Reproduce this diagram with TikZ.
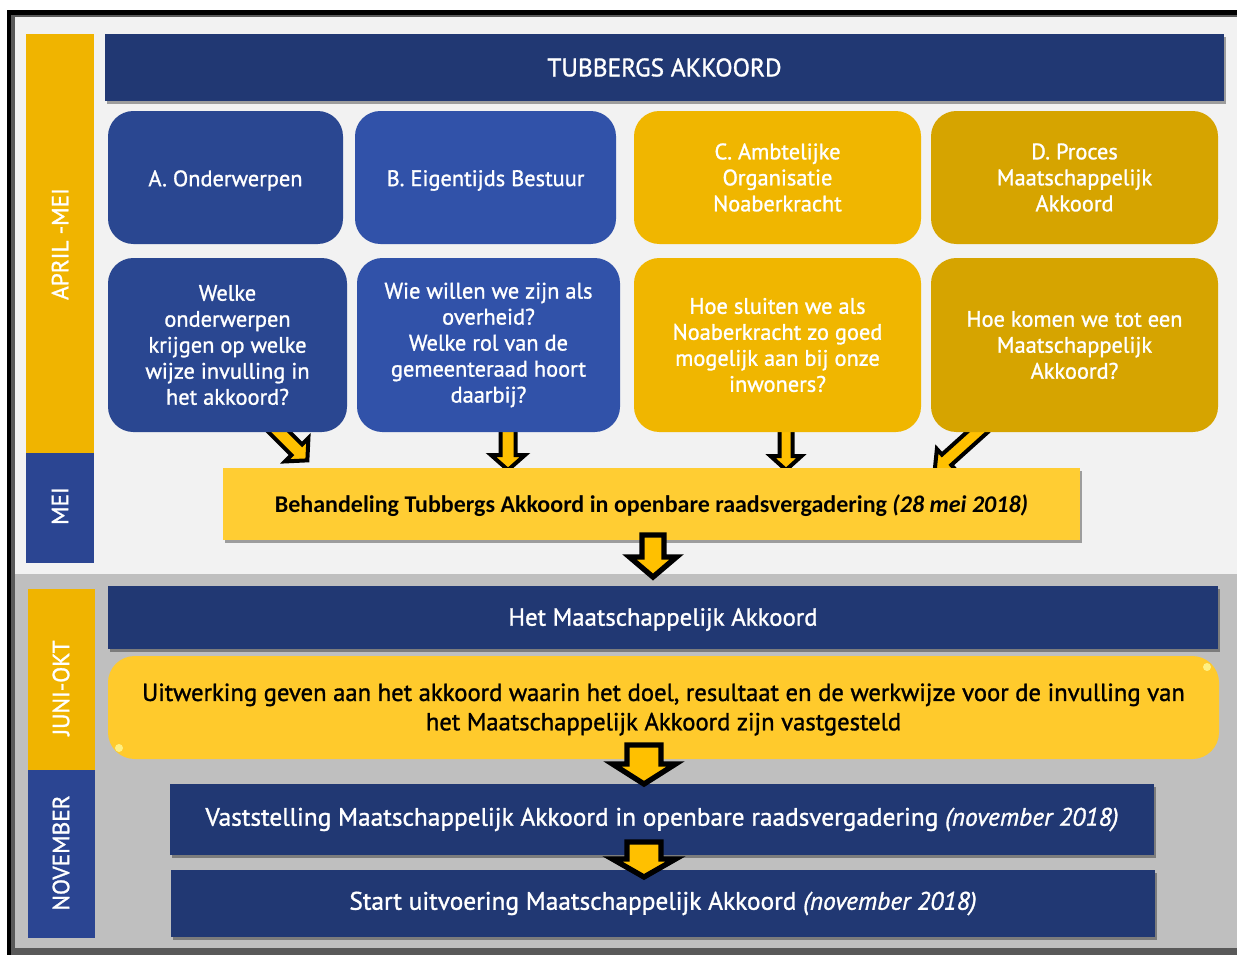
\documentclass[tikz,border=0pt]{standalone}
\usepackage{fontspec}
\setmainfont{PT Sans}[RawFeature={embolden=1.2}]
\newfontfamily\calfont{Carlito}
\usetikzlibrary{fit,shadows,calc}
\definecolor{navy}{HTML}{213873}
\definecolor{sideblue}{HTML}{2B4592}
\definecolor{sideyel}{HTML}{F0B400}
\definecolor{boxA}{HTML}{2A4791}
\definecolor{boxB}{HTML}{3152A9}
\definecolor{boxC}{HTML}{F0B600}
\definecolor{boxD}{HTML}{D6A400}
\definecolor{behyel}{HTML}{FFCD33}
\definecolor{uityel}{HTML}{FFCA2C}
\definecolor{arrfill}{HTML}{FFC000}
\definecolor{topbg}{HTML}{F2F2F2}
\definecolor{botbg}{HTML}{BFBFBF}
\definecolor{framegray}{HTML}{595959}
\newcommand\blockarrow[7]{%
  \begin{scope}[shift={#1},rotate=#2]
    \filldraw[arrowstyle,line width=#7] (-#4,0) -- (-#4,#3-#6) -- (-#5,#3-#6) -- (0,#3) -- (#5,#3-#6) -- (#4,#3-#6) -- (#4,0) -- cycle;
  \end{scope}}
\begin{document}
\begin{tikzpicture}[x=0.75pt,y=-0.75pt,
  boxfont/.style={font=\fontsize{16.8}{19.5}\selectfont},
  rbox/.style={rounded corners=19pt,inner sep=0pt},
  txt/.style={boxfont,align=center,text=white,inner sep=0pt},
  sq/.style={inner sep=0pt,fill=navy,
     drop shadow={shadow xshift=1.5pt,shadow yshift=-2.5pt,opacity=0.35,fill=black}},
  side/.style={inner sep=0pt},
  sidelabel/.style={rotate=90,text=white,font=\fontsize{17.5}{19}\selectfont},
  arrowstyle/.style={draw=black,fill=arrfill,line join=miter}]
\clip (0,0) rectangle (1237,954);
\useasboundingbox (0,0) rectangle (1237,954);
\fill[white] (0,0) rectangle (1237,954);
% frame
\fill[black] (7,10) rectangle (1260,970);
\fill[framegray] (11,15) rectangle (1260,970);
\fill[topbg] (15,17) rectangle (1260,574);
\fill[botbg] (15,574) rectangle (1260,948);

% side bars
\node[side,fill=sideyel,fit={(26,34) (94,453)}] (apr) {};
\node[side,fill=sideblue,fit={(26,453) (94,563)}] (mei) {};
\node[side,fill=sideyel,fit={(28,589) (95,770)}] (juni) {};
\node[side,fill=sideblue,fit={(28,770) (95,938)}] (nov) {};
\node[sidelabel] at (60,244) {APRIL -MEI};
\node[sidelabel] at (60,506) {MEI};
\node[sidelabel] at (61,688) {JUNI-OKT};
\node[sidelabel] at (61,853) {NOVEMBER};

% arrows from row 2 (behind boxes)
\coordinate (arrA) at (272,425);
\coordinate (arrB) at (508,425);
\coordinate (arrC) at (786,425);
\coordinate (arrD) at (983,427);
\blockarrow{(arrA)}{45}{50}{7.5}{16.5}{15}{3}
\blockarrow{(arrB)}{0}{45}{7.5}{17}{15}{3}
\blockarrow{(arrC)}{0}{45}{6.5}{15.5}{14}{3}
\blockarrow{(arrD)}{-48}{65}{7}{14.5}{16}{3}

% title
\node[sq,fit={(105,34) (1224,101)}] (title) {};
\node[txt,font=\fontsize{19}{22}\selectfont] at (title.center) {TUBBERGS AKKOORD};

% row 1
\node[rbox,fill=boxA,fit={(108,111) (343,244)}] (a1) {};
\node[rbox,fill=boxB,fit={(355,111) (616,244)}] (b1) {};
\node[rbox,fill=boxC,fit={(634,111) (921,244)}] (c1) {};
\node[rbox,fill=boxD,fit={(931,111) (1218,244)}] (d1) {};
\node[txt] at ($(a1.center)+(0,3)$) {A. Onderwerpen};
\node[txt] at ($(b1.center)+(0,3)$) {B. Eigentijds Bestuur};
\node[txt] at (c1.center) {C. Ambtelijke\\Organisatie\\Noaberkracht};
\node[txt] at (d1.center) {D. Proces\\Maatschappelijk\\Akkoord};
% row 2
\node[rbox,fill=boxA,fit={(108,258) (347,432)}] (a2) {};
\node[rbox,fill=boxB,fit={(357,258) (620,432)}] (b2) {};
\node[rbox,fill=boxC,fit={(634,258) (921,432)}] (c2) {};
\node[rbox,fill=boxD,fit={(931,258) (1218,432)}] (d2) {};
\node[txt] at (a2.center) {Welke\\onderwerpen\\krijgen op welke\\wijze invulling in\\het akkoord?};
\node[txt] at (b2.center) {Wie willen we zijn als\\overheid?\\Welke rol van de\\gemeenteraad hoort\\daarbij?};
\node[txt] at (c2.center) {Hoe sluiten we als\\Noaberkracht zo goed\\mogelijk aan bij onze\\inwoners?};
\node[txt] at (d2.center) {Hoe komen we tot een\\Maatschappelijk\\Akkoord?};

% Behandeling
\node[sq,fill=behyel,fit={(223,468) (1080,540)}] (beh) {};
\node[txt,text=black,font=\calfont\bfseries\fontsize{18}{20}\selectfont] at ($(beh.center)+(0,2)$) {Behandeling Tubbergs Akkoord in openbare raadsvergadering \textit{(28 mei 2018)}};
\coordinate (arrE) at (653,535);
\blockarrow{(arrE)}{0}{42}{11}{23.5}{20}{4}

% bottom section
\node[sq,fit={(108,586) (1218,649)}] (hma) {};
\node[txt,font=\fontsize{18.6}{22}\selectfont] at ($(hma.center)+(0,2)$) {Het Maatschappelijk Akkoord};
\node[rbox,rounded corners=20pt,fill=uityel,fit={(108,656) (1219,759)}] (uit) {};
\node[txt,text=black,font=\fontsize{18.5}{22}\selectfont] at ($(uit.center)+(0,2)$) {Uitwerking geven aan het akkoord waarin het doel, resultaat en de werkwijze voor de invulling van\\het Maatschappelijk Akkoord zijn vastgesteld};
\fill[yellow!40!white,opacity=0.8] (1207,667) circle (4);
\fill[yellow!40!white,opacity=0.8] (119,748) circle (4);
\node[sq,fit={(170,784) (1154,855)}] (vast) {};
\node[txt,font=\fontsize{19}{22}\selectfont] at (vast.center) {Vaststelling Maatschappelijk Akkoord in openbare raadsvergadering \textit{(november 2018)}};
\node[sq,fit={(171,870) (1155,937)}] (start) {};
\node[txt,font=\fontsize{19}{22}\selectfont] at (start.center) {Start uitvoering Maatschappelijk Akkoord \textit{(november 2018)}};
\coordinate (arrF) at (644,745);
\coordinate (arrG) at (644,842);
\blockarrow{(arrF)}{0}{39}{17}{31.5}{20}{4}
\blockarrow{(arrG)}{0}{35}{17}{31.5}{18}{4}
\end{tikzpicture}
\end{document}
